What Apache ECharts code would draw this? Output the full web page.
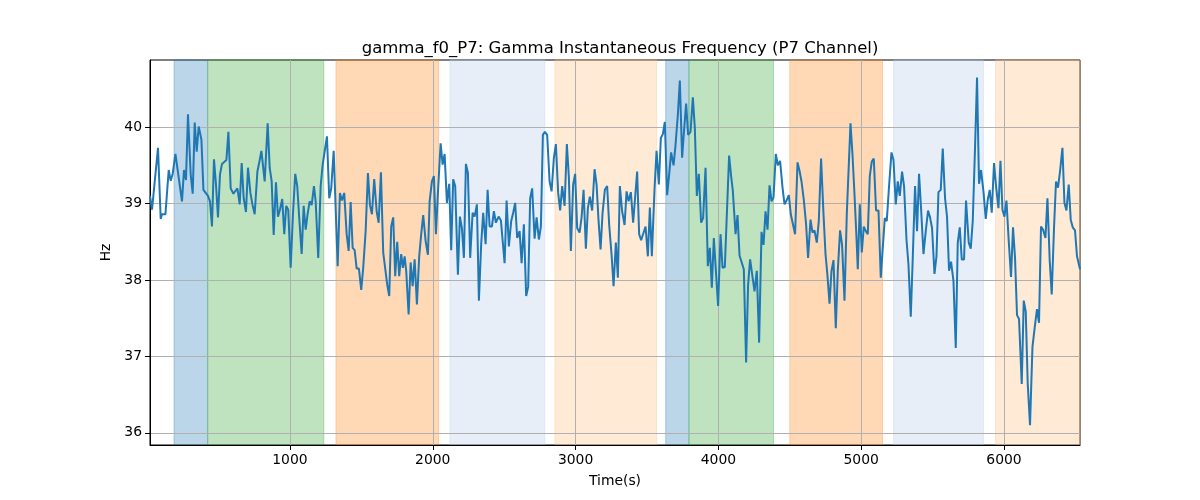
<!DOCTYPE html>
<html>
<head>
<meta charset="utf-8">
<script src="https://cdn.jsdelivr.net/npm/echarts@6/dist/echarts.min.js"></script>
<style>html,body{margin:0;padding:0;background:#fff}#chart{width:1200px;height:500px}</style>
</head>
<body>
<div id="chart"></div>
<script>
// ---------- DATA ----------
const chartTitle = 'gamma_f0_P7: Gamma Instantaneous Frequency (P7 Channel)';
const xName = 'Time(s)';
const yName = 'Hz';
const xTickValues = [1000, 2000, 3000, 4000, 5000, 6000];
const yTickValues = [36, 37, 38, 39, 40];

const timeSec = [
  20,34,76,95,104,118,128,151,165,179, 198,216,230,244,258,272,286,305,319,333,
  347,361,380,394,408,426,440,454,468,482, 496,510,524,538,555,569,585,604,618,632,
  648,662,676,692,706,723,737,753,772,786, 800,823,
  844,858,872,886,902,916,930,946,960,974, 988,1005,1021,1037,1051,1065,1082,1096,1110,1124,
  1138,1152,1168,1180,1198,1215,1229,1243,1259,1275, 1289,1306,1320,1334,1350,1364,1380,1397,1411,1425,
  1439,1453,1467,1483,1499,1513,1530,1546,1560,1574, 1590,1607,1621,1637,
  1653,1667,1681,1695,1709,1723,1737,1751,1765,1779, 1791,1803,1814,1831,1845,1859,1873,1889,1905,1919,
  1933,1950,1966,1978,1994,2008,2022,2036,2055,2069, 2083,2099,2115,2129,2143,2157,2176,2190,2204,2218,
  2232,2246,2262,2279,2293,2309,2323,2339,2353,2370, 2384,2398,2414,2428,2442,2461,
  2477,2489,2503,2517,2533,2549,2563,2577,2591,2608, 2622,2638,2654,2668,2682,2696,2713,2727,2743,2757,
  2771,2785,2801,2818,2832,2848,2862,2878,2892,2906, 2923,2939,2953,2967,2983,2997,3011,3028,3042,3056,
  3072,3086,3100,3116,3133,3147,3161,3175,3189,3205, 3221,3235,3252,3266,3282,
  3296,3310,3326,3343,3357,3371,3387,3403,3417,3431, 3445,3459,3473,3490,3506,3520,3534,3553,3567,3583,
  3597,3611,3625,3641,3655,3669,3686,3700,3716,3730, 3746,3760,3774,3788,3805,3821,3835,3849,3863,3879,
  3893,3910,3926,3940,3954,3968,3982,3998,4015,4029, 4045,4061,4075,4089,
  4101,4120,4134,4148,4162,4178,4194,4208,4222,4236, 4253,4269,4285,4302,4316,4330,4344,4358,4372,4386,
  4402,4416,4432,4449,4463,4477,4493,4507,4521,4537, 4554,4568,4582,4598,4614,4628,4645,4659,4673,4689,
  4703,4719,4736,4750,4764,4778,4792,4806,4822,4836, 4852,4866,4883,4899,
  4925,4939,4953,4967,4976,4990,5004,5018,5032,5046, 5060,5074,5088,5104,5121,5137,5151,5165,5179,5195,
  5212,5226,5242,5256,5270,5286,5300,5317,5331,5347, 5361,5377,5391,5405,5419,5436,5452,5468,5482,5496,
  5513,5527,5541,5557,5571,5587,5601,5615,5629,5646, 5662,5676,5690,5704,5720,5734,
  5753,5767,5781,5797,5811,5825,5839,5856,5872,5886, 5900,5914,5930,5944,5961,5975,5989,6003,6017,6033,
  6049,6063,6077,6091,6105,6124,6138,6152,6166,6182, 6199,6215,6231,6245,6259,6273,6290,6304,6320,6334,
  6350,6364,6378,6392,6409,6423,6437,6453,6467,6481, 6497,6511,6532
];

const gammaHz = [
  39.1,38.92,39.73,38.80,38.86,38.85,38.86,39.44,39.30,39.39, 39.65,39.41,39.41,39.03,39.44,39.31,40.17,39.38,39.13,40.06,
  39.68,40.01,39.84,39.18,39.18,39.10,39.03,38.70,39.58,39.25, 38.82,39.38,39.52,39.54,39.57,39.94,39.20,39.13,39.13,39.20,
  38.99,39.53,39.07,38.89,39.47,39.14,38.99,38.86,39.42,39.55, 39.69,39.29,
  40.05,39.47,39.29,38.59,39.28,38.83,38.92,39.06,38.60,38.97, 38.92,38.16,38.86,39.39,39.23,38.81,38.34,38.97,38.66,38.87,
  39.03,38.98,39.23,39.03,38.29,39.23,39.51,39.51,39.88,39.07, 39.20,39.69,38.94,38.18,39.14,39.04,39.14,38.60,38.38,39.02,
  38.42,38.39,38.15,38.15,37.87,38.16,38.64,39.40,38.98,38.86, 39.32,38.90,38.75,39.41,
  38.36,38.36,37.94,37.79,38.70,38.82,38.05,38.50,38.05,38.34, 38.16,38.31,38.12,37.55,38.23,37.92,38.27,37.68,38.31,38.60,
  38.85,38.51,38.33,39.03,39.29,39.36,38.60,39.14,39.79,39.51, 39.65,39.01,39.26,38.39,39.32,39.23,38.07,38.83,38.68,38.29,
  39.52,39.40,38.29,38.88,38.83,38.99,37.73,38.47,38.88,38.47, 39.18,38.70,38.70,38.90,38.75,38.83,
  38.78,38.78,38.22,39.04,38.44,38.77,38.88,39.01,38.55,38.64, 38.22,38.73,37.79,37.91,39.07,39.20,38.54,38.82,38.53,38.70,
  39.90,39.94,39.90,39.29,39.16,39.60,39.78,39.14,38.91,39.23, 38.97,39.78,39.34,38.38,39.25,39.39,38.68,38.62,38.82,39.18,
  38.41,38.94,39.09,38.91,39.45,39.25,38.77,38.40,38.88,39.18, 39.23,38.73,38.33,37.92,38.49,
  38.03,39.23,38.90,38.72,39.16,39.03,39.15,38.75,38.77,39.42, 38.60,38.52,38.52,38.70,38.31,38.95,38.31,39.20,39.69,39.25,
  39.86,39.91,40.07,39.11,39.38,39.67,39.50,39.77,40.16,40.61, 39.60,39.97,40.31,39.90,39.94,40.39,39.99,39.10,39.39,38.75,
  38.81,39.47,38.18,38.42,37.90,38.55,38.57,37.66,38.60,38.16, 38.17,38.95,39.63,39.36,
  39.17,38.60,38.85,38.32,38.31,38.14,36.92,37.94,38.27,38.08, 37.85,38.12,37.18,38.63,38.46,38.90,38.66,39.24,39.03,39.08,
  39.65,39.50,39.56,39.21,38.99,39.04,39.11,38.86,38.85,38.60, 39.54,39.43,39.29,39.05,38.73,38.29,38.79,38.62,38.65,38.49,
  38.77,39.59,38.86,38.34,38.05,37.69,38.12,38.26,37.37,38.12, 38.65,38.46,37.73,38.86,
  40.05,39.64,39.12,38.55,38.14,38.99,38.36,38.70,38.64,38.60, 39.36,39.55,39.59,38.91,38.91,38.03,38.42,38.81,38.77,39.23,
  39.67,39.57,38.99,39.29,39.10,39.42,39.23,38.53,38.20,37.52, 38.29,39.23,38.64,39.39,38.94,38.34,38.64,38.91,38.82,38.68,
  38.08,38.31,39.15,39.18,39.72,39.07,38.83,38.12,38.24,37.99, 37.11,38.49,38.69,38.27,38.27,39.04,
  38.49,38.41,38.77,39.73,40.65,39.26,39.44,39.16,38.80,39.05, 39.18,38.88,39.53,39.23,38.94,39.56,38.92,38.83,39.04,38.51,
  38.04,38.69,38.29,37.54,37.49,36.64,37.73,37.59,36.64,36.10, 37.12,37.38,37.62,37.44,38.70,38.66,38.55,39.07,38.25,37.81,
  38.68,39.29,39.21,39.42,39.73,39.01,38.91,39.25,38.79,38.69, 38.65,38.31,38.14
];

// shaded intervals (seconds) and their class
const spanStart = [188, 424, 1322, 2120, 2855, 3631, 3794, 4500, 5227, 5941];
const spanEnd   = [424, 1237, 2041, 2784, 3568, 3794, 4386, 5149, 5856, 6532];
const spanKind  = ['A', 'B', 'C', 'D', 'E', 'A', 'B', 'C', 'D', 'E'];

// ---------- STYLE ----------
const kindColor = {
  A: 'rgba(31,119,180,0.3)',
  B: 'rgba(44,160,44,0.3)',
  C: 'rgba(255,127,14,0.3)',
  D: 'rgba(174,199,232,0.3)',
  E: 'rgba(255,187,120,0.3)'
};
const FONT = 'DejaVu Sans';

if (timeSec.length !== gammaHz.length) console.error('length mismatch', timeSec.length, gammaHz.length);
const seriesData = timeSec.map((t, i) => [t, gammaHz[i]]);
const areas = spanStart.map((s, i) => [
  { xAxis: s, itemStyle: { color: kindColor[spanKind[i]], borderColor: kindColor[spanKind[i]], borderWidth: 1 } },
  { xAxis: spanEnd[i] }
]);
const plain = v => String(v);

const chart = echarts.init(document.getElementById('chart'), null, { renderer: 'canvas' });
chart.setOption({
  backgroundColor: '#fff',
  animation: false,
  title: {
    text: chartTitle, left: 615, top: 35, textAlign: 'center',
    textStyle: { fontFamily: FONT, fontSize: 16.5, fontWeight: 'normal', color: '#000' }
  },
  grid: { left: 150, right: 120, top: 60, bottom: 55, show: true, borderColor: '#000', borderWidth: 1, backgroundColor: 'transparent' },
  xAxis: {
    type: 'value', min: 20, max: 6532, splitNumber: 6, z: 1,
    name: xName, nameLocation: 'middle', nameGap: 29,
    nameTextStyle: { fontFamily: FONT, fontSize: 13.9, color: '#000' },
    axisLine: { show: true, onZero: false, lineStyle: { color: '#000', width: 1 } },
    axisTick: { show: true, length: 5, lineStyle: { color: '#000' }, customValues: xTickValues },
    axisLabel: { fontFamily: FONT, fontSize: 13.9, color: '#000', margin: 8, formatter: plain, customValues: xTickValues },
    splitLine: { show: true, lineStyle: { color: '#b0b0b0', width: 1 } }
  },
  yAxis: {
    type: 'value', min: 35.84, max: 40.88, splitNumber: 5, z: 1,
    name: yName, nameLocation: 'middle', nameGap: 34, nameRotate: 90,
    nameTextStyle: { fontFamily: FONT, fontSize: 13.9, color: '#000' },
    axisLine: { show: true, onZero: false, lineStyle: { color: '#000', width: 1 } },
    axisTick: { show: true, length: 5, lineStyle: { color: '#000' }, customValues: yTickValues },
    axisLabel: { fontFamily: FONT, fontSize: 13.9, color: '#000', margin: 8, formatter: plain, customValues: yTickValues },
    splitLine: { show: true, lineStyle: { color: '#b0b0b0', width: 1 } }
  },
  series: [{
    type: 'line',
    data: [],
    z: 0,
    silent: true,
    markArea: { silent: true, z: 0, data: areas }
  }, {
    type: 'line',
    data: seriesData,
    showSymbol: false,
    smooth: false,
    lineStyle: { color: '#1f77b4', width: 2 },
    itemStyle: { color: '#1f77b4' },
    z: 3
  }]
});
</script>
</body>
</html>
